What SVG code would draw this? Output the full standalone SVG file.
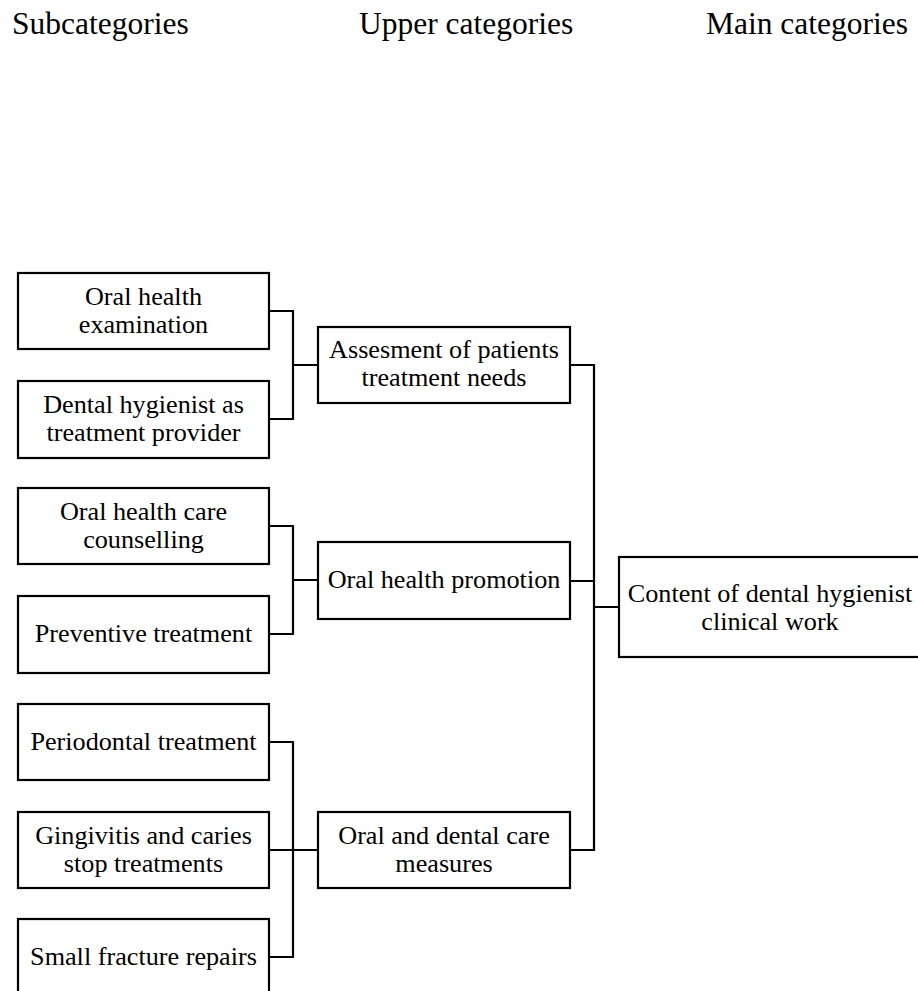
<svg xmlns="http://www.w3.org/2000/svg" width="918" height="991" viewBox="0 0 918 991">
<style>
  text { font-family: "Liberation Serif", "Times New Roman", serif; fill: #000; }
  .hdr { font-size: 31.5px; }
  .lbl { font-size: 26.2px; text-anchor: middle; }
  .box { fill: #fff; stroke: #000; stroke-width: 2.2; }
  .conn { fill: none; stroke: #000; stroke-width: 2.2; }
</style>
<rect width="918" height="991" fill="#fff"/>
<g id="headers">
  <text class="hdr" x="12" y="34">Subcategories</text>
  <text class="hdr" x="359" y="34">Upper categories</text>
  <text class="hdr" x="706" y="34">Main categories</text>
</g>
<g id="connectors">
  <path class="conn" d="M269,311 H293 V419 H269 M293,365 H318"/>
  <path class="conn" d="M269,526 H293 V634 H269 M293,580 H318"/>
  <path class="conn" d="M269,742 H293 V957 H269 M269,850 H318"/>
  <path class="conn" d="M570,365 H594 V850 H570 M570,581 H594 M594,607 H619"/>
</g>
<g id="sub1">
  <rect class="box" x="18" y="273" width="251" height="76"/>
  <text class="lbl" x="143.5" y="305">Oral health</text>
  <text class="lbl" x="143.5" y="333">examination</text>
</g>
<g id="sub2">
  <rect class="box" x="18" y="381" width="251" height="77"/>
  <text class="lbl" x="143.5" y="413">Dental hygienist as</text>
  <text class="lbl" x="143.5" y="441">treatment provider</text>
</g>
<g id="sub3">
  <rect class="box" x="18" y="488" width="251" height="76"/>
  <text class="lbl" x="143.5" y="520">Oral health care</text>
  <text class="lbl" x="143.5" y="548">counselling</text>
</g>
<g id="sub4">
  <rect class="box" x="18" y="596" width="251" height="77"/>
  <text class="lbl" x="143.5" y="642">Preventive treatment</text>
</g>
<g id="sub5">
  <rect class="box" x="18" y="704" width="251" height="76"/>
  <text class="lbl" x="143.5" y="750">Periodontal treatment</text>
</g>
<g id="sub6">
  <rect class="box" x="18" y="812" width="251" height="76"/>
  <text class="lbl" x="143.5" y="844">Gingivitis and caries</text>
  <text class="lbl" x="143.5" y="872">stop treatments</text>
</g>
<g id="sub7">
  <rect class="box" x="18" y="919" width="251" height="76"/>
  <text class="lbl" x="143.5" y="965">Small fracture repairs</text>
</g>
<g id="upper1">
  <rect class="box" x="318" y="327" width="252" height="76"/>
  <text class="lbl" x="444" y="358">Assesment of patients</text>
  <text class="lbl" x="444" y="386">treatment needs</text>
</g>
<g id="upper2">
  <rect class="box" x="318" y="542" width="252" height="77"/>
  <text class="lbl" x="444" y="588">Oral health promotion</text>
</g>
<g id="upper3">
  <rect class="box" x="318" y="812" width="252" height="76"/>
  <text class="lbl" x="444" y="844">Oral and dental care</text>
  <text class="lbl" x="444" y="872">measures</text>
</g>
<g id="main1">
  <rect class="box" x="619" y="557" width="302" height="100"/>
  <text class="lbl" x="770" y="602">Content of dental hygienist</text>
  <text class="lbl" x="770" y="630">clinical work</text>
</g>
</svg>
